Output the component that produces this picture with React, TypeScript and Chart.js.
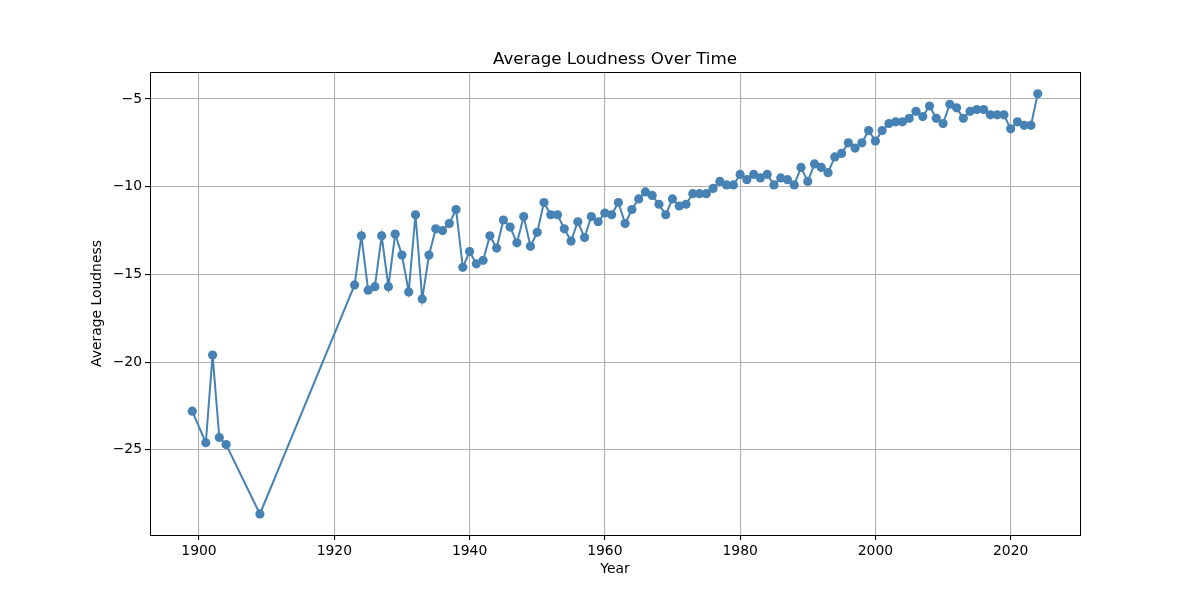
import React, { useEffect, useRef } from "react";
import { Chart, registerables } from "chart.js";

Chart.register(...registerables);

const years = [
  1899, 1901, 1902, 1903, 1904, 1909, 1923, 1924, 1925, 1926, 1927, 1928, 1929, 1930,
  1931, 1932, 1933, 1934, 1935, 1936, 1937, 1938, 1939, 1940, 1941, 1942, 1943, 1944,
  1945, 1946, 1947, 1948, 1949, 1950, 1951, 1952, 1953, 1954, 1955, 1956, 1957, 1958,
  1959, 1960, 1961, 1962, 1963, 1964, 1965, 1966, 1967, 1968, 1969, 1970, 1971, 1972,
  1973, 1974, 1975, 1976, 1977, 1978, 1979, 1980, 1981, 1982, 1983, 1984, 1985, 1986,
  1987, 1988, 1989, 1990, 1991, 1992, 1993, 1994, 1995, 1996, 1997, 1998, 1999, 2000,
  2001, 2002, 2003, 2004, 2005, 2006, 2007, 2008, 2009, 2010, 2011, 2012, 2013, 2014,
  2015, 2016, 2017, 2018, 2019, 2020, 2021, 2022, 2023, 2024,
];

const loudness = [
  -22.8, -24.6, -19.6, -24.3, -24.7, -28.66, -15.6, -12.8, -15.9, -15.7, -12.8, -15.7, -12.7, -13.9,
  -16.0, -11.6, -16.4, -13.9, -12.4, -12.5, -12.1, -11.3, -14.6, -13.7, -14.4, -14.2, -12.8, -13.5,
  -11.9, -12.3, -13.2, -11.7, -13.4, -12.6, -10.9, -11.6, -11.6, -12.4, -13.1, -12.0, -12.9, -11.7,
  -12.0, -11.5, -11.6, -10.9, -12.1, -11.3, -10.7, -10.3, -10.5, -11.0, -11.6, -10.7, -11.1, -11.0,
  -10.4, -10.4, -10.4, -10.1, -9.7, -9.9, -9.9, -9.3, -9.6, -9.3, -9.5, -9.3, -9.9, -9.5,
  -9.6, -9.9, -8.9, -9.7, -8.7, -8.9, -9.2, -8.3, -8.1, -7.5, -7.8, -7.5, -6.8, -7.4,
  -6.8, -6.4, -6.3, -6.3, -6.1, -5.7, -6.0, -5.4, -6.1, -6.4, -5.3, -5.5, -6.1, -5.7,
  -5.6, -5.6, -5.9, -5.9, -5.9, -6.7, -6.3, -6.5, -6.5, -4.7,
];

const xTicks = [1900, 1920, 1940, 1960, 1980, 2000, 2020];
const yTicks = [-25, -20, -15, -10, -5];

const titleText = "Average Loudness Over Time";
const xLabel = "Year";
const yLabel = "Average Loudness";

const FONT = "'DejaVu Sans', sans-serif";

const textPlugin = {
  id: "mplText",
  afterDraw(chart: any) {
    const ctx = chart.ctx;
    const a = chart.chartArea;
    ctx.save();
    ctx.strokeStyle = "#000";
    ctx.lineWidth = 1;
    ctx.strokeRect(Math.round(a.left) + 0.5, Math.round(a.top) + 0.5, Math.round(a.right - a.left), Math.round(a.bottom - a.top));
    ctx.fillStyle = "#000";
    ctx.textAlign = "center";
    ctx.textBaseline = "middle";
    const cx = (a.left + a.right) / 2;
    ctx.font = `16.7px ${FONT}`;
    ctx.fillText(titleText, cx, 59.5);
    ctx.font = `13.9px ${FONT}`;
    ctx.fillText(xLabel, cx, 569);
    ctx.translate(97, (a.top + a.bottom) / 2);
    ctx.rotate(-Math.PI / 2);
    ctx.fillText(yLabel, 0, 0);
    ctx.restore();
  },
};

export default function App() {
  const ref = useRef<HTMLCanvasElement>(null);
  useEffect(() => {
    document.body.style.margin = "0";
    const canvas = ref.current!;
    const chart = new Chart(canvas, {
      type: "line",
      data: {
        datasets: [
          {
            data: years.map((x, i) => ({ x, y: loudness[i] })),
            borderColor: "#4682b4",
            backgroundColor: "#4682b4",
            borderWidth: 2,
            pointRadius: 4.6,
            pointBorderWidth: 0,
            pointBackgroundColor: "#4682b4",
            tension: 0,
          },
        ],
      },
      options: {
        responsive: false,
        animation: false,
        devicePixelRatio: 1,
        layout: { padding: { top: 72, right: 120, left: 0, bottom: 0 } },
        plugins: { legend: { display: false }, tooltip: { enabled: false }, title: { display: false } },
        scales: {
          x: {
            type: "linear",
            min: 1892.75,
            max: 2030.25,
            afterBuildTicks: (s: any) => {
              s.ticks = xTicks.map((v) => ({ value: v }));
            },
            afterFit: (s: any) => {
              s.height = 65;
            },
            ticks: {
              callback: (v: any) => String(v),
              color: "#000",
              font: { family: FONT, size: 13.9 },
              maxRotation: 0,
              padding: 3,
            },
            grid: { color: "#b0b0b0", lineWidth: 1.1, tickColor: "#000", tickLength: 5 },
            border: { display: true, color: "#000", width: 1 },
          },
          y: {
            type: "linear",
            min: -29.86,
            max: -3.46,
            afterBuildTicks: (s: any) => {
              s.ticks = yTicks.map((v) => ({ value: v }));
            },
            afterFit: (s: any) => {
              s.width = 150;
            },
            ticks: {
              callback: (v: any) => String(v).replace("-", "\u2212"),
              color: "#000",
              font: { family: FONT, size: 13.9 },
              padding: 3,
            },
            grid: { color: "#b0b0b0", lineWidth: 1.1, tickColor: "#000", tickLength: 5 },
            border: { display: true, color: "#000", width: 1 },
          },
        },
      },
      plugins: [textPlugin],
    } as any);
    return () => chart.destroy();
  }, []);
  return (
    <div style={{ position: "absolute", left: 0, top: 0, width: 1200, height: 600, background: "#fff" }}>
      <canvas ref={ref} width={1200} height={600} />
    </div>
  );
}
